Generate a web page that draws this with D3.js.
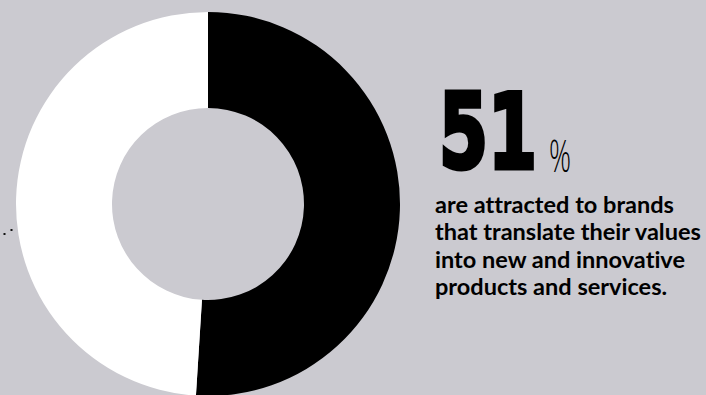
<!DOCTYPE html>
<html>
<head>
<meta charset="utf-8">
<script src="https://cdn.jsdelivr.net/npm/d3@7"></script>
<style>
  html, body { margin: 0; padding: 0; background: #cbcad0; }
  svg { display: block; }
  text { font-variant-ligatures: none; font-feature-settings: "liga" 0, "dlig" 0; }
</style>
</head>
<body>
<svg id="chart" width="706" height="395"></svg>
<script>
// Share of respondents attracted vs. not
const categories = ["Attracted", "Other"];
const shareValues = [51, 49];
const sliceColors = ["#000000", "#ffffff"];
const headlineValue = "51";
const headlineUnit = "%";
const captionLines = [
  "are attracted to brands",
  "that translate their values",
  "into new and innovative",
  "products and services."
];

const svg = d3.select("#chart");
const W = 706, H = 395;

svg.append("rect").attr("width", W).attr("height", H).attr("fill", "#cbcad0");

// Donut
const cx = 208, cy = 204, rOuter = 192, rInner = 96;
const pie = d3.pie().sort(null).value(d => d)
  .startAngle(0).endAngle(2 * Math.PI);
const arc = d3.arc().innerRadius(rInner).outerRadius(rOuter);
const color = d3.scaleOrdinal().domain(categories).range(sliceColors);

svg.append("g")
  .attr("transform", `translate(${cx},${cy})`)
  .selectAll("path")
  .data(pie(shareValues))
  .join("path")
  .attr("d", arc)
  .attr("fill", (d, i) => color(categories[i]));

// Small decorative marks at the left edge
svg.append("g").selectAll("rect")
  .data([[3.5, 233], [10.5, 229]])
  .join("rect")
  .attr("x", d => d[0]).attr("y", d => d[1])
  .attr("width", 2).attr("height", 2)
  .attr("fill", "#111");

// Headline number: heavy, horizontally condensed
const big = svg.append("text")
  .attr("x", 0).attr("y", 0)
  .attr("font-family", "'DejaVu Sans', sans-serif")
  .attr("font-weight", 700)
  .attr("font-size", 104)
  .attr("fill", "#000")
  .attr("stroke", "#000")
  .attr("stroke-width", 5)
  .attr("stroke-linejoin", "miter")
  .text(headlineValue);
const bigW = big.node().getComputedTextLength();
const bigSx = 98 / bigW;
big.attr("transform", `translate(439,168) scale(${bigSx.toFixed(4)},1)`);

const unit = svg.append("text")
  .attr("x", 0).attr("y", 0)
  .attr("font-family", "'Open Sans', sans-serif")
  .attr("font-weight", 300)
  .attr("font-size", 44)
  .attr("fill", "#000")
  .text(headlineUnit);
const unitW = unit.node().getComputedTextLength();
unit.attr("transform", `translate(549,172) scale(${(22 / unitW).toFixed(4)},1)`);

// Caption, sized so the widest line fills the column
const baseSize = 20;
const cap = svg.append("g")
  .attr("font-family", "Lato, 'Open Sans', sans-serif")
  .attr("font-weight", 700)
  .attr("font-size", baseSize)
  .attr("fill", "#000");

cap.selectAll("text")
  .data(captionLines)
  .join("text")
  .attr("x", 435)
  .attr("y", (d, i) => 213 + i * 27.3)
  .text(d => d);

const widest = d3.max(cap.selectAll("text").nodes(), n => n.getComputedTextLength());
cap.attr("font-size", (baseSize * 266 / widest).toFixed(2));
</script>
</body>
</html>
